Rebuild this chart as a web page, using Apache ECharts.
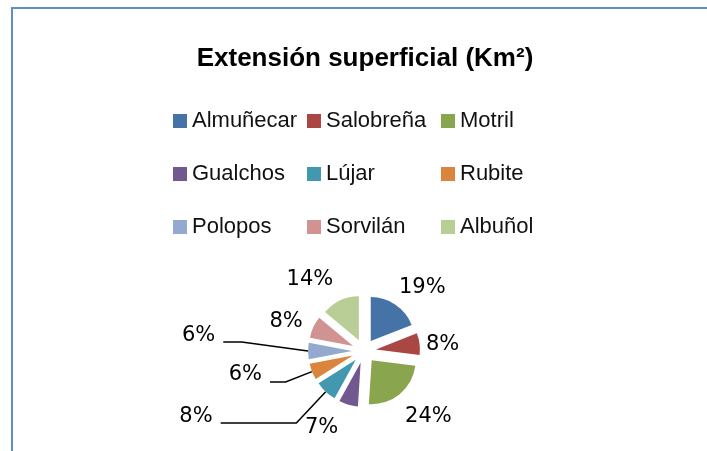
<!DOCTYPE html>
<html>
<head>
<meta charset="utf-8">
<script src="https://cdn.jsdelivr.net/npm/echarts@6/dist/echarts.min.js"></script>
<style>
  html, body { margin: 0; padding: 0; background: #fff; }
  #frame {
    position: absolute; left: 11px; top: 7px; width: 720px; height: 470px;
    border-left: 2px solid #5f8dc8; border-top: 2px solid #5f8dc8;
  }
  #chart { position: absolute; left: 0; top: 0; width: 707px; height: 451px; }
</style>
</head>
<body>
<div id="frame"></div>
<div id="chart"></div>
<script>
// datos
const municipios = ['Almuñecar', 'Salobreña', 'Motril', 'Gualchos', 'Lújar', 'Rubite', 'Polopos', 'Sorvilán', 'Albuñol']
const porcentajes = [19, 8, 24, 7, 8, 6, 6, 8, 14]
const colores = ['#4572A7', '#AA4643', '#89A54E', '#71588F', '#4198AF', '#DB843D', '#93A9CF', '#D19392', '#B9CD96']

// leyenda en tres columnas (indices de municipios)
const columnasLeyenda = [[0, 3, 6], [1, 4, 7], [2, 5, 8]]
const leyendaLeft = [173, 307, 441]

// ajuste de etiquetas (largo de lineas guia y desplazamientos)
const largoLinea = [20.8, 1, 29.7, 23.75, 42.8, 28.3, 66.3, 12.9, 23.5]
const largoLinea2 = [-16.2, -2.6, -21.6, -4.5, 75.7, 15.6, 18.4, -9.1, -11.1]
const verLinea = [false, false, false, false, true, true, true, false, false]
const despTexto = [0, 1, 0, 0, -6, -7, -15, 0, 0]
const despLinea = [0, 0, 0, 0, 0, 0, -9, 0, 0]

// el texto rico con padding asimetrico desplaza la cifra arriba/abajo
const paddingTexto = d => d < 0 ? [0, 0, -2 * d, 0] : [2 * d, 0, 0, 0]
const estilosRich = {}
despTexto.forEach((d, i) => {
  estilosRich['t' + i] = {
    fontFamily: 'DejaVu Sans',
    fontSize: 21,
    color: '#000',
    padding: paddingTexto(d)
  }
})

const chart = echarts.init(document.getElementById('chart'))

const option = {
  animation: false,
  title: {
    text: 'Extensión superficial (Km²)',
    left: 365,
    top: 46,
    textAlign: 'center',
    padding: 0,
    textStyle: {
      fontFamily: 'Liberation Sans',
      fontWeight: 'bold',
      fontSize: 26,
      color: '#000'
    }
  },
  legend: columnasLeyenda.map((col, k) => ({
    orient: 'vertical',
    left: leyendaLeft[k],
    top: 109,
    padding: 0,
    icon: 'rect',
    itemWidth: 14,
    itemHeight: 14,
    itemGap: 29,
    selectedMode: false,
    itemStyle: { borderWidth: 0 },
    data: col.map(i => municipios[i]),
    textStyle: {
      fontFamily: 'Liberation Sans',
      fontSize: 22,
      lineHeight: 24,
      color: '#111'
    }
  })),
  series: [
    {
      type: 'pie',
      center: [364, 351],
      radius: 44,
      startAngle: 90,
      clockwise: true,
      selectedMode: 'multiple',
      selectedOffset: 12,
      avoidLabelOverlap: false,
      emphasis: { disabled: true },
      itemStyle: { borderWidth: 0 },
      label: {
        position: 'outside',
        formatter: p => '{t' + p.dataIndex + '|' + p.value + '%}',
        fontFamily: 'DejaVu Sans',
        fontSize: 21,
        color: '#000',
        distanceToLabelLine: 8,
        rich: estilosRich
      },
      labelLine: {
        lineStyle: { color: '#000', width: 1.5 }
      },
      labelLayout: p => {
        const i = p.dataIndex
        if (!despLinea[i] || !p.labelLinePoints) return {}
        const pts = p.labelLinePoints
        return {
          labelLinePoints: [
            pts[0],
            [pts[1][0], pts[1][1] + despLinea[i]],
            [pts[2][0], pts[2][1] + despLinea[i]]
          ]
        }
      },
      data: municipios.map((name, i) => ({
        name,
        value: porcentajes[i],
        selected: true,
        itemStyle: { color: colores[i] },
        labelLine: { show: verLinea[i], length: largoLinea[i], length2: largoLinea2[i] }
      }))
    }
  ]
}

chart.setOption(option)
</script>
</body>
</html>
